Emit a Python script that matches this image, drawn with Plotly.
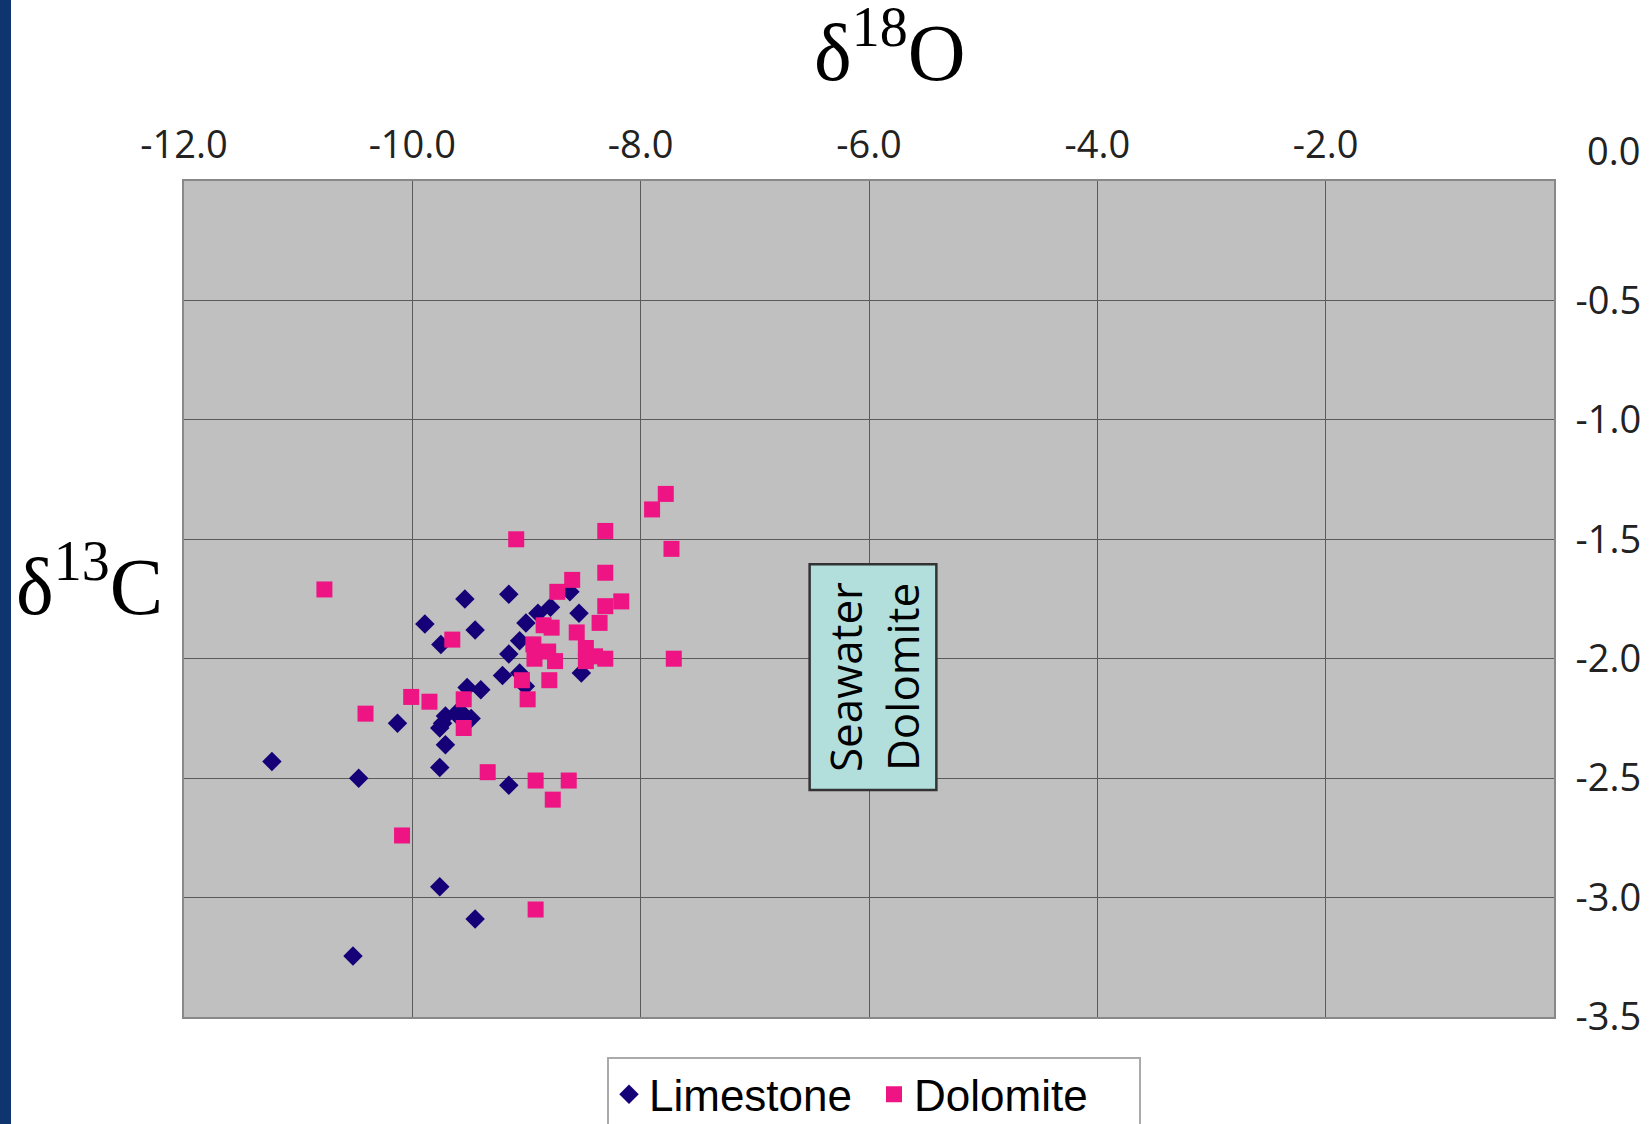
import plotly.graph_objects as go

# Limestone (diamonds)
lime_x = [-9.54, -9.155, -9.89, -9.45, -9.75, -8.79, -8.90, -8.62, -8.54, -9.005, -9.06,
          -9.155, -9.21, -9.06, -9.01, -8.52, -9.52, -9.40, -9.71, -9.62, -9.485, -9.76,
          -9.71, -10.13, -11.23, -9.76, -10.47, -9.155, -9.76, -9.45, -10.52, -9.735, -9.57]
lime_y = [-1.75, -1.73, -1.855, -1.88, -1.94, -1.785, -1.81, -1.72, -1.81, -1.85, -1.925,
          -1.98, -2.07, -2.06, -2.115, -2.06, -2.12, -2.13, -2.24, -2.23, -2.25, -2.29,
          -2.36, -2.27, -2.43, -2.455, -2.50, -2.53, -2.955, -3.09, -3.245, -2.27, -2.225]

# Dolomite (squares)
dolo_x = [-7.78, -7.90, -9.09, -8.31, -7.73, -10.77, -8.31, -8.60, -8.73, -8.17, -8.31,
          -8.36, -8.85, -8.78, -8.56, -9.65, -8.94, -8.81, -8.48, -8.93, -8.75, -8.48,
          -8.40, -8.31, -7.71, -9.04, -8.80, -8.99, -10.01, -9.85, -9.55, -10.41, -9.55,
          -9.34, -8.92, -8.63, -8.77, -10.09, -8.92]
dolo_y = [-1.31, -1.375, -1.50, -1.465, -1.54, -1.71, -1.64, -1.67, -1.72, -1.76, -1.78,
          -1.85, -1.86, -1.87, -1.89, -1.92, -1.94, -1.97, -1.955, -2.00, -2.01, -2.01,
          -1.99, -2.00, -2.00, -2.09, -2.09, -2.17, -2.16, -2.18, -2.17, -2.23, -2.29,
          -2.475, -2.51, -2.51, -2.59, -2.74, -3.05]

x_tickvals = [-12, -10, -8, -6, -4, -2]
x_ticktext = ["-12.0", "-10.0", "-8.0", "-6.0", "-4.0", "-2.0"]
y_tickvals = [-0.5, -1.0, -1.5, -2.0, -2.5, -3.0, -3.5]
y_ticktext = ["-0.5", "-1.0", "-1.5", "-2.0", "-2.5", "-3.0", "-3.5"]
corner_label = "0.0"

W, H = 1652, 1124
ML, MR, MT, MB = 184, 98, 181, 107
PW, PH = W - ML - MR, H - MT - MB

def px_x(p):
    return (p - ML) / PW

def px_y(p):
    return 1 - (p - MT) / PH

fig = go.Figure()
fig.add_trace(go.Scatter(
    x=lime_x, y=lime_y, mode="markers", name="Limestone",
    marker=dict(symbol="diamond", size=15, color="#160078"),
))
fig.add_trace(go.Scatter(
    x=dolo_x, y=dolo_y, mode="markers", name="Dolomite",
    marker=dict(symbol="square", size=16, color="#EE1483"),
))

tickfont = dict(family="Open Sans", size=38, color="#222222")

fig.update_layout(
    width=W, height=H,
    margin=dict(l=ML, r=MR, t=MT, b=MB, autoexpand=False),
    paper_bgcolor="white",
    plot_bgcolor="#C0C0C0",
    showlegend=True,
    legend=dict(
        orientation="h", x=px_x(874), xanchor="center", y=-0.048, yanchor="top",
        font=dict(family="Liberation Sans", size=44, color="black"),
        bgcolor="white", bordercolor="#AAAAAA", borderwidth=2,
        itemsizing="trace", entrywidth=220,
    ),
    xaxis=dict(
        range=[-12, 0], side="top", tickvals=x_tickvals, ticktext=x_ticktext,
        showgrid=True, gridcolor="#5A5A5A", gridwidth=1, zeroline=False,
        showline=True, linecolor="#888888", linewidth=2, mirror=True,
        tickfont=tickfont, ticks="", ticklabelstandoff=6,
    ),
    yaxis=dict(
        range=[-3.5, 0], side="right", tickvals=y_tickvals, ticktext=y_ticktext,
        showgrid=True, gridcolor="#5A5A5A", gridwidth=1, zeroline=False,
        showline=True, linecolor="#888888", linewidth=2, mirror=True,
        tickfont=tickfont, ticks="", ticklabelstandoff=12,
    ),
    shapes=[
        dict(type="rect", xref="paper", yref="paper",
             x0=px_x(0), x1=px_x(11), y0=px_y(H), y1=px_y(0),
             fillcolor="#0F3570", line=dict(width=0), layer="above"),
        dict(type="rect", xref="x", yref="y", x0=-6.52, x1=-5.41, y0=-1.604, y1=-2.55,
             fillcolor="#B2DFDC", line=dict(color="#333333", width=2.5), layer="above"),
    ],
    annotations=[
        dict(text="δ<sup>18</sup>O", xref="paper", yref="paper",
             x=px_x(890), y=px_y(46), xanchor="center", yanchor="middle",
             showarrow=False, font=dict(family="Liberation Serif", size=80, color="black")),
        dict(text="δ<sup>13</sup>C", xref="paper", yref="paper",
             x=px_x(89), y=px_y(580), xanchor="center", yanchor="middle",
             showarrow=False, font=dict(family="Liberation Serif", size=80, color="black")),
        dict(text=corner_label, xref="paper", yref="paper",
             x=px_x(1642), y=px_y(150), xanchor="right", yanchor="middle",
             showarrow=False, font=tickfont),
        dict(text="Seawater<br>Dolomite", xref="x", yref="y", x=-5.965, y=-2.077,
             textangle=-90, showarrow=False,
             font=dict(family="Open Sans", size=44, color="black")),
    ],
)

fig.write_html("out.html")
